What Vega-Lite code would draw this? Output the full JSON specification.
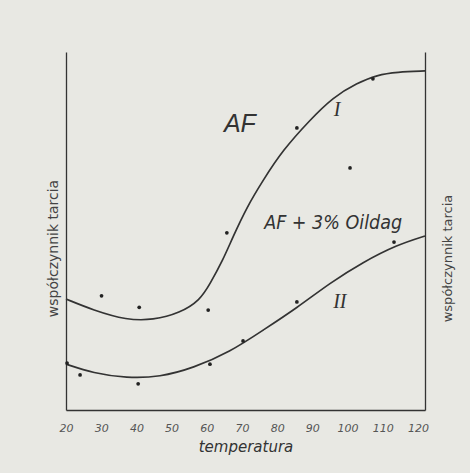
{
  "$schema": "https://vega.github.io/schema/vega-lite/v6.json",
  "autosize": {"type": "none"},
  "padding": {"left": 66, "top": 52, "right": 45, "bottom": 63},
  "width": 359,
  "height": 358,
  "background": "#e8e8e3",
  "config": {"view": {"stroke": null}},
  "datasets": {
    "curves": [
      {"series": "I", "T": 20, "v": 31.0}, {"series": "I", "T": 27.7, "v": 27.9}, {"series": "I", "T": 37.3, "v": 25.1},
      {"series": "I", "T": 44.7, "v": 25.1}, {"series": "I", "T": 52.4, "v": 27.1}, {"series": "I", "T": 58.1, "v": 30.7},
      {"series": "I", "T": 60.9, "v": 35.2}, {"series": "I", "T": 64.6, "v": 41.9}, {"series": "I", "T": 67.4, "v": 48.3},
      {"series": "I", "T": 71.4, "v": 56.7}, {"series": "I", "T": 76.0, "v": 64.2}, {"series": "I", "T": 81.6, "v": 72.6},
      {"series": "I", "T": 89.3, "v": 81.0}, {"series": "I", "T": 95.9, "v": 87.4}, {"series": "I", "T": 102.7, "v": 91.3},
      {"series": "I", "T": 108.4, "v": 93.6}, {"series": "I", "T": 114.0, "v": 94.4}, {"series": "I", "T": 122, "v": 94.7},
      {"series": "II", "T": 20, "v": 12.8}, {"series": "II", "T": 27.7, "v": 10.3}, {"series": "II", "T": 37.3, "v": 8.9},
      {"series": "II", "T": 46.7, "v": 9.2}, {"series": "II", "T": 56.1, "v": 11.7}, {"series": "II", "T": 66.6, "v": 16.2},
      {"series": "II", "T": 76.0, "v": 22.3}, {"series": "II", "T": 85.6, "v": 28.5}, {"series": "II", "T": 95.0, "v": 35.5},
      {"series": "II", "T": 104.4, "v": 41.3}, {"series": "II", "T": 114.0, "v": 46.1}, {"series": "II", "T": 122, "v": 48.6}
    ],
    "dots": [
      {"series": "I", "T": 30.1, "v": 31.9}, {"series": "I", "T": 40.8, "v": 28.7}, {"series": "I", "T": 60.4, "v": 27.9},
      {"series": "I", "T": 65.7, "v": 49.5}, {"series": "I", "T": 85.6, "v": 78.8}, {"series": "I", "T": 100.7, "v": 67.6},
      {"series": "I", "T": 107.2, "v": 92.5},
      {"series": "II", "T": 20.3, "v": 13.1}, {"series": "II", "T": 24.0, "v": 9.8}, {"series": "II", "T": 40.5, "v": 7.3},
      {"series": "II", "T": 60.9, "v": 12.8}, {"series": "II", "T": 70.3, "v": 19.3}, {"series": "II", "T": 85.6, "v": 30.2},
      {"series": "II", "T": 113.2, "v": 46.9}
    ],
    "labels": [
      {"label": "AF", "T": 69.4, "v": 79.9},
      {"label": "AF + 3% Oildag", "T": 95.9, "v": 52.2},
      {"label": "I", "T": 97.0, "v": 83.8},
      {"label": "II", "T": 97.8, "v": 30.2}
    ]
  },
  "encoding": {
    "x": {
      "field": "T", "type": "quantitative",
      "scale": {"domain": [20, 122], "nice": false, "zero": false},
      "axis": {
        "values": [20, 30, 40, 50, 60, 70, 80, 90, 100, 110, 120],
        "grid": false, "ticks": false, "domainColor": "#333", "domainWidth": 1.3,
        "labelFont": "DejaVu Sans", "labelFontStyle": "italic", "labelFontSize": 11, "labelColor": "#555",
        "labelPadding": 12, "labelFlush": false,
        "title": "temperatura", "titleFont": "DejaVu Sans", "titleFontStyle": "italic", "titleFontWeight": "normal",
        "titleFontSize": 15, "titleColor": "#333", "titlePadding": 6
      }
    },
    "y": {
      "field": "v", "type": "quantitative",
      "scale": {"domain": [0, 100], "nice": false},
      "axis": null
    }
  },
  "resolve": {"axis": {"y": "independent"}},
  "layer": [
    {
      "data": {"name": "curves"},
      "mark": {"type": "line", "interpolate": "basis", "color": "#333333", "strokeWidth": 1.7},
      "encoding": {
        "detail": {"field": "series"},
        "y": {
          "field": "v", "type": "quantitative",
          "axis": {
            "orient": "left", "grid": false, "ticks": false, "labels": false, "domainColor": "#333", "domainWidth": 1.3,
            "title": "współczynnik tarcia", "titleFont": "DejaVu Sans", "titleFontWeight": "normal", "titleFontSize": 14,
            "titleColor": "#444", "titleAngle": -90, "titleAlign": "center", "titleBaseline": "middle",
            "titleX": -13, "titleY": 196
          }
        }
      }
    },
    {
      "data": {"name": "dots"},
      "mark": {"type": "circle", "size": 14, "color": "#222", "opacity": 1},
      "encoding": {
        "y": {
          "field": "v", "type": "quantitative",
          "axis": {
            "orient": "right", "grid": false, "ticks": false, "labels": false, "domainColor": "#333", "domainWidth": 1.3,
            "title": "współczynnik tarcia", "titleFont": "DejaVu Sans", "titleFontWeight": "normal", "titleFontSize": 13,
            "titleColor": "#444", "titleAngle": -90, "titleAlign": "center", "titleBaseline": "middle",
            "titleX": 22, "titleY": 206
          }
        }
      }
    },
    {
      "data": {"name": "labels"},
      "transform": [{"filter": "datum.label == 'AF'"}],
      "mark": {"type": "text", "font": "Liberation Sans", "fontStyle": "italic", "fontSize": 25, "color": "#333", "align": "center", "baseline": "middle"},
      "encoding": {"text": {"field": "label"}}
    },
    {
      "data": {"name": "labels"},
      "transform": [{"filter": "datum.label == 'AF + 3% Oildag'"}],
      "mark": {"type": "text", "font": "DejaVu Sans Condensed, Liberation Sans", "fontStyle": "italic", "fontSize": 19.5, "color": "#333", "align": "center", "baseline": "middle"},
      "encoding": {"text": {"field": "label"}}
    },
    {
      "data": {"name": "labels"},
      "transform": [{"filter": "datum.label == 'I' || datum.label == 'II'"}],
      "mark": {"type": "text", "font": "Liberation Serif", "fontStyle": "italic", "fontSize": 20, "color": "#333", "align": "center", "baseline": "middle"},
      "encoding": {"text": {"field": "label"}}
    }
  ]
}
